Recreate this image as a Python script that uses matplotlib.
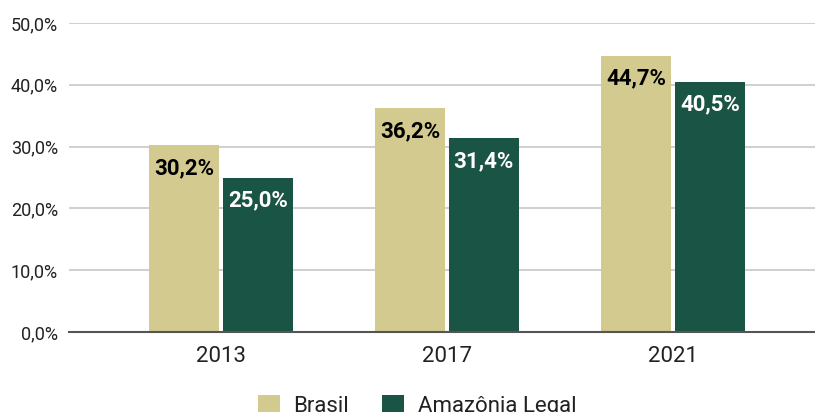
import matplotlib
matplotlib.use("Agg")
import matplotlib.pyplot as plt
from matplotlib.patches import Patch
import numpy as np

years = ["2013", "2017", "2021"]
brasil = [30.2, 36.2, 44.7]
amazonia = [25.0, 31.4, 40.5]
series_names = ["Brasil", "Amazônia Legal"]
colors = ["#d3ca8f", "#1a5444"]
label_colors = ["#000000", "#ffffff"]
yticks = [0, 10, 20, 30, 40, 50]

plt.rcParams['font.family'] = ['Roboto', 'DejaVu Sans']

fig = plt.figure(figsize=(8.15, 4.12), dpi=100)
ax = fig.add_axes([69/815, 80/412, (815-69)/815, (332-23)/412])

x = np.arange(len(years))
w = 0.307
off = 0.163
for vals, dx, c, lc in [(brasil, -off, colors[0], label_colors[0]),
                        (amazonia, off, colors[1], label_colors[1])]:
    bars = ax.bar(x + dx, vals, width=w, color=c, zorder=3)
    for b, v in zip(bars, vals):
        ax.annotate(f"{v:.1f}%".replace(".", ","),
                    (b.get_x() + b.get_width()/2, v),
                    xytext=(0, -16.6), textcoords="offset points",
                    ha="center", va="center", fontsize=16, fontweight="bold",
                    color=lc, zorder=4)

ax.set_xlim(-152/226, 2 + 142/226)
ax.set_ylim(0, 50)
ax.set_yticks(yticks)
ax.set_yticklabels([f"{t:.1f}%".replace(".", ",") for t in yticks], fontsize=13, color="#222222")
ax.set_xticks(x)
ax.set_xticklabels(years, fontsize=16, color="#222222")
ax.tick_params(axis="both", length=0)
ax.tick_params(axis="y", pad=8)
ax.tick_params(axis="x", pad=10)
ax.grid(axis="y", color="#cccccc", linewidth=1.3, zorder=0)
for s in ["top", "right", "left"]:
    ax.spines[s].set_visible(False)
ax.spines["bottom"].set_color("#555555")
ax.spines["bottom"].set_linewidth(1.5)
ax.spines["bottom"].set_zorder(5)

handles = [Patch(facecolor=colors[0], edgecolor="none"),
           Patch(facecolor=colors[1], edgecolor="none")]
fig.legend(handles, series_names, loc="center", bbox_to_anchor=(417/815, 6/412),
           ncol=2, frameon=False, fontsize=16, handlelength=1.0, handleheight=1.0,
           handletextpad=0.6, columnspacing=1.5, labelcolor="#222222")

fig.savefig("out.png", dpi=100)
